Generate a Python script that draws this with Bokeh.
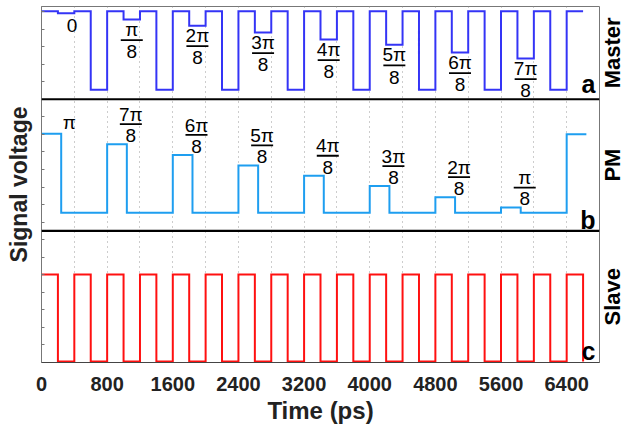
import numpy as np
from bokeh.plotting import figure
from bokeh.models import Range1d, FixedTicker, Span, LinearAxis
from bokeh.core.properties import value
from bokeh.embed import file_html
from bokeh.resources import INLINE

# ---------------- data ----------------
x_ticks = [0, 800, 1600, 2400, 3200, 4000, 4800, 5600, 6400]
grid_ticks = [400, 800, 1200, 1600, 2000, 2400, 2800, 3200, 3600, 4000,
              4400, 4800, 5200, 5600, 6000, 6400]
x_end = 6800          # ps, right edge of the time axis
slot = 200            # ps, width of one master slot
period = 800          # ps, master / PM period

# Master (panel a), signal levels in axis units
master_high = 20.02
master_low = 15.54
master_levels = [19.90, 19.54, 19.19, 18.80, 18.40, 18.10, 17.66, 17.32]
master_num = ["0", "π", "2π", "3π", "4π", "5π", "6π", "7π"]
master_den = ["", "8", "8", "8", "8", "8", "8", "8"]

# PM (panel b)
pm_base = 8.53
pm_levels = [13.03, 12.44, 11.83, 11.23, 10.64, 10.05, 9.42, 8.83, 13.01]
pm_pulse_width = 240
pm_num = ["π", "7π", "6π", "5π", "4π", "3π", "2π", "π"]
pm_den = ["", "8", "8", "8", "8", "8", "8", "8"]

# Slave (panel c)
slave_high = 5.01
slave_low = 0.05
slave_period = 400
slave_end = 6600

panel_names = ["Master", "PM", "Slave"]
panel_letters = ["a", "b", "c"]
panel_bounds = [7.5, 15.0]
y_ticks = list(range(1, 21))
y_top = 20.285

# ---------------- geometry helpers ----------------
FRAME_W, FRAME_H = 558, 356
xppu = FRAME_W / x_end
ppu = FRAME_H / y_top
FONT = "Liberation Sans"
NAME_SIZE = 22
# Liberation Sans Bold advance widths (em) for the panel-name letters
ADV = {"M": 0.833, "a": 0.556, "s": 0.556, "t": 0.333, "e": 0.556,
       "r": 0.389, "P": 0.667, "S": 0.667, "l": 0.278, "v": 0.556}


def steps(segments):
    xs, ys = [], []
    for t0, t1, v in segments:
        xs += [t0, t1]
        ys += [v, v]
    return xs, ys


master_segs = [(0, slot, master_high)]
for k, lv in enumerate(master_levels):
    t0 = slot + period * k
    master_segs += [(t0, t0 + slot, lv),
                    (t0 + slot, t0 + 2 * slot, master_high),
                    (t0 + 2 * slot, t0 + 3 * slot, master_low),
                    (t0 + 3 * slot, t0 + 4 * slot, master_high)]
mx, my = steps(master_segs)

pm_segs = []
for j, lv in enumerate(pm_levels):
    t0 = period * j
    pm_segs.append((t0, t0 + pm_pulse_width, lv))
    if j < len(pm_levels) - 1:
        pm_segs.append((t0 + pm_pulse_width, t0 + period, pm_base))
px_, py_ = steps(pm_segs)

slave_segs = []
t = 0
while t < slave_end:
    slave_segs.append((t, t + slave_period // 2, slave_high))
    if t + slave_period // 2 < slave_end:
        slave_segs.append((t + slave_period // 2, t + slave_period, slave_low))
    t += slave_period
sx, sy = steps(slave_segs)
sx.append(slave_end)
sy.append(slave_low)

# ---------------- figure ----------------
p = figure(frame_width=FRAME_W, frame_height=FRAME_H,
           x_range=Range1d(0, x_end), y_range=Range1d(0, y_top),
           min_border_left=41, min_border_right=31, min_border_top=6,
           min_border_bottom=0, toolbar_location=None, output_backend="svg",
           background_fill_color="white", border_fill_color="white")
p.outline_line_color = "#777777"

# grid
p.ygrid.visible = False
p.xgrid.ticker = FixedTicker(ticks=grid_ticks)
p.xgrid.grid_line_color = "#9a9a9a"
p.xgrid.grid_line_dash = "1 4"
p.xgrid.grid_line_width = 1

# x axis
p.xaxis.ticker = FixedTicker(ticks=x_ticks)
p.xaxis.major_tick_in = 0
p.xaxis.major_tick_out = 0
p.xaxis.minor_tick_line_color = None
p.xaxis.axis_line_color = "#444444"
p.xaxis.major_label_standoff = 14
p.xaxis.major_label_text_font = FONT
p.xaxis.major_label_text_font_style = "bold"
p.xaxis.major_label_text_font_size = "20px"
p.xaxis.major_label_text_color = "#222222"
p.xaxis.axis_label = "Time (ps)"
p.xaxis.axis_label_text_font = FONT
p.xaxis.axis_label_text_font_style = "bold"
p.xaxis.axis_label_text_font_size = "24px"
p.xaxis.axis_label_text_color = "#222222"
p.xaxis.axis_label_standoff = 3

# y axis (ticks only) + title
p.yaxis.ticker = FixedTicker(ticks=y_ticks)
p.yaxis.major_label_overrides = {tk: "" for tk in y_ticks}
p.yaxis.major_label_standoff = 0
p.yaxis.major_tick_in = 3
p.yaxis.major_tick_out = 0
p.yaxis.minor_tick_line_color = None
p.yaxis.axis_line_color = "#777777"
p.yaxis.major_tick_line_color = "#777777"
p.yaxis.axis_label = "Signal voltage"
p.yaxis.axis_label_text_font = FONT
p.yaxis.axis_label_text_font_style = "bold"
p.yaxis.axis_label_text_font_size = "23px"
p.yaxis.axis_label_text_color = "#222222"
p.yaxis.axis_label_standoff = 10

# right axis carrying the panel names (rotated labels start at their tick,
# so each tick sits half a text length below the panel centre)
centres = [(panel_bounds[1] + y_top) / 2, sum(panel_bounds) / 2, panel_bounds[0] / 2]
name_y = []
for nm, c in zip(panel_names, centres):
    half_px = sum(ADV[ch] for ch in nm) * NAME_SIZE / 2
    name_y.append(round(c - half_px / ppu, 3))
right = LinearAxis(ticker=FixedTicker(ticks=name_y),
                   major_label_overrides={ny: nm for ny, nm in zip(name_y, panel_names)},
                   major_label_orientation=np.pi / 2,
                   major_tick_line_color=None, minor_tick_line_color=None,
                   axis_line_color=None, major_label_standoff=7,
                   major_label_text_font=FONT,
                   major_label_text_font_style="bold",
                   major_label_text_font_size=f"{NAME_SIZE}px",
                   major_label_text_color="black")
p.add_layout(right, "right")

# panel separators
for b in panel_bounds:
    p.add_layout(Span(location=b, dimension="width", line_color="black",
                      line_width=2.2))

# signals
p.line(mx, my, line_color="#3434f6", line_width=2, line_join="miter")
p.line(px_, py_, line_color="#1e9ef0", line_width=2, line_join="miter")
p.line(sx, sy, line_color="#ff1010", line_width=2, line_join="miter")

# ---------------- phase labels ----------------
txt = dict(text_font=value(FONT), text_font_size="19px", text_color="black",
           text_align="center", text_baseline="middle")

# master: below each reduced level (offsets in px converted to axis units)
num_x, num_y, bar_x, bar_y, den_x, den_y, den_t = [], [], [], [], [], [], []
for k, lv in enumerate(master_levels):
    xc = slot + period * k + slot / 2
    if master_den[k]:
        num_x.append(xc); num_y.append(lv - 9.9 / ppu)
        bar_x.append(xc); bar_y.append(lv - 20.5 / ppu)
        den_x.append(xc); den_y.append(lv - 32.2 / ppu); den_t.append(master_den[k])
    else:  # stand-alone label sits a little right of the dip centre
        num_x.append(xc + 6 / xppu); num_y.append(lv - 12.7 / ppu)
p.text(x=num_x, y=num_y, text=master_num, **txt)

# PM: above-right of each pulse
pm_x, pm_y = [], []
for j in range(len(pm_num)):
    t_end = period * j + pm_pulse_width
    lv = pm_levels[j]
    if pm_den[j]:
        pm_x.append(t_end + 4 / xppu)
        pm_y.append(lv + 29.8 / ppu)
        bar_x.append(t_end + 4 / xppu); bar_y.append(lv + 20.0 / ppu)
        den_x.append(t_end + 4 / xppu); den_y.append(lv + 8.6 / ppu); den_t.append(pm_den[j])
    else:
        pm_x.append(t_end + 8 / xppu)
        pm_y.append(lv + 11.8 / ppu)
p.text(x=pm_x, y=pm_y, text=pm_num, **txt)
p.text(x=den_x, y=den_y, text=den_t, **txt)
p.rect(x=bar_x, y=bar_y, width=22, height=1.8, width_units="screen",
       height_units="screen", fill_color="black", line_color=None)

# panel letters
letter_y = [panel_bounds[1] + 15.5 / ppu, panel_bounds[0] + 10.5 / ppu, 11.5 / ppu]
p.text(x=[x_end] * 3, y=letter_y, text=panel_letters, x_offset=-4,
       text_font=value(FONT), text_font_style="bold", text_font_size="25px",
       text_color="black", text_align="right", text_baseline="middle")

open("out.html", "w").write(file_html(p, INLINE))
